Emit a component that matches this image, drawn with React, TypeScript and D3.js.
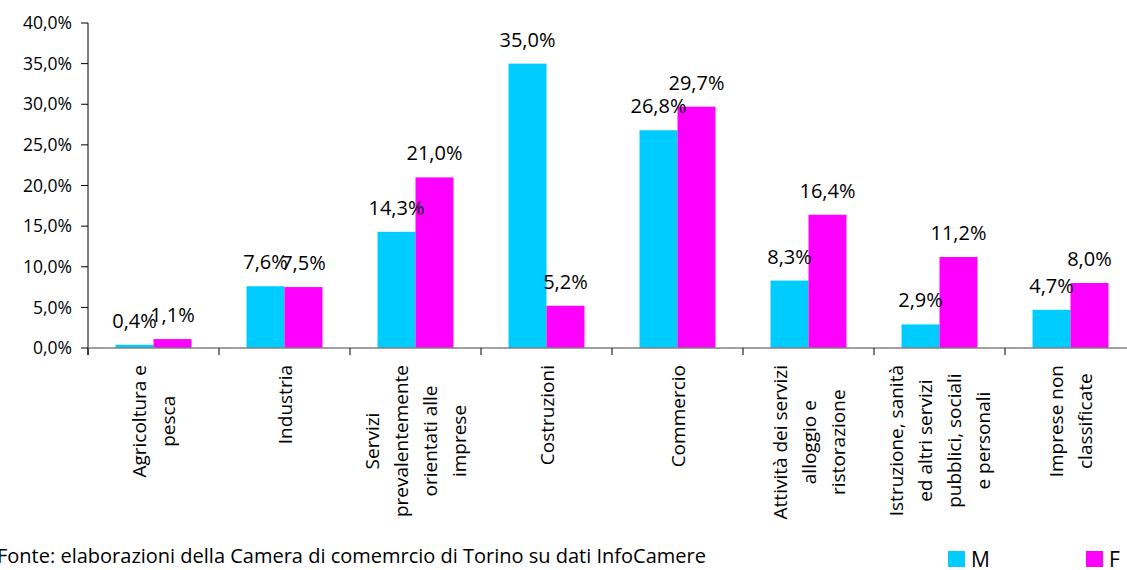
import React, { useEffect, useRef } from "react";
import * as d3 from "d3";

const categories = [
  ["Agricoltura e", "pesca"],
  ["Industria"],
  ["Servizi", "prevalentemente", "orientati alle", "imprese"],
  ["Costruzioni"],
  ["Commercio"],
  ["Attività dei servizi", "alloggio e", "ristorazione"],
  ["Istruzione, sanità", "ed altri servizi", "pubblici, sociali", "e personali"],
  ["Imprese non", "classificate"],
];
const seriesNames = ["M", "F"];
const valuesM = [0.4, 7.6, 14.3, 35.0, 26.8, 8.3, 2.9, 4.7];
const valuesF = [1.1, 7.5, 21.0, 5.2, 29.7, 16.4, 11.2, 8.0];
const yTicks = [0, 5, 10, 15, 20, 25, 30, 35, 40];
const colors = ["#00CCFF", "#FF00FF"];
const source = "Fonte: elaborazioni della Camera di comemrcio di Torino su dati InfoCamere";

const fmt = (v: number) => v.toFixed(1).replace(".", ",") + "%";
const FONT = "'Open Sans', 'Noto Sans', sans-serif";

export default function App() {
  const ref = useRef<SVGSVGElement>(null);
  useEffect(() => {
    const svg = d3.select(ref.current);
    svg.selectAll("*").remove();
    const x0 = 88;
    const step = 131;
    const keys = categories.map((_, i) => String(i));
    const x = d3.scaleBand().domain(keys).range([x0, x0 + step * categories.length]).paddingInner(0).paddingOuter(0);
    const x1 = d3.scaleBand().domain(seriesNames).range([0, x.bandwidth()]).paddingInner(0).paddingOuter(0.724);
    const y = d3.scaleLinear().domain([0, 40]).range([348, 23]);
    const data = [valuesM, valuesF];

    // y axis
    const gy = svg.append("g");
    gy.append("line").attr("x1", x0).attr("x2", x0).attr("y1", y(40)).attr("y2", y(0) + 7).attr("stroke", "#000");
    yTicks.forEach((t) => {
      gy.append("line").attr("x1", x0 - 7).attr("x2", x0).attr("y1", y(t)).attr("y2", y(t)).attr("stroke", "#000");
      gy.append("text").attr("x", 72).attr("y", y(t)).attr("dy", "0.35em").attr("text-anchor", "end")
        .attr("font-family", FONT).attr("font-size", 17.5).attr("fill", "#000").text(fmt(t));
    });

    // bars
    data.forEach((vals, si) => {
      const g = svg.append("g");
      vals.forEach((v, i) => {
        const bx = (x(keys[i]) as number) + (x1(seriesNames[si]) as number);
        g.append("rect").attr("x", bx).attr("y", y(v)).attr("width", x1.bandwidth()).attr("height", y(0) - y(v)).attr("fill", colors[si]);
      });
    });

    // x axis
    const gx = svg.append("g");
    gx.append("line").attr("x1", x0).attr("x2", 1127).attr("y1", y(0)).attr("y2", y(0)).attr("stroke", "#808080").attr("stroke-width", 1.5);
    keys.forEach((k) => {
      const tx = x(k) as number;
      gx.append("line").attr("x1", tx).attr("x2", tx).attr("y1", y(0)).attr("y2", y(0) + 7).attr("stroke", "#000");
    });

    // value labels
    data.forEach((vals, si) => {
      vals.forEach((v, i) => {
        const cx = (x(keys[i]) as number) + (x1(seriesNames[si]) as number) + x1.bandwidth() / 2;
        svg.append("text").attr("x", cx).attr("y", y(v) - 17).attr("text-anchor", "middle")
          .attr("font-family", FONT).attr("font-size", 20).attr("fill", "#000").text(fmt(v));
      });
    });

    // category labels
    const lh = 29;
    categories.forEach((lines, i) => {
      const cx = (x(keys[i]) as number) + x.bandwidth() / 2;
      const g = svg.append("g");
      const texts = lines.map((ln) =>
        g.append("text").attr("text-anchor", "middle").attr("font-family", FONT).attr("font-size", 19).attr("fill", "#000").text(ln)
      );
      const maxW = d3.max(texts, (t) => (t.node() as SVGTextElement).getComputedTextLength()) || 0;
      const n = lines.length;
      texts.forEach((t, j) => {
        const lx = cx + (j - (n - 1) / 2) * lh + 7;
        const ly = 365 + maxW / 2;
        t.attr("transform", `translate(${lx},${ly}) rotate(-90)`);
      });
    });

    // source
    svg.append("text").attr("x", -3).attr("y", 563).attr("font-family", FONT).attr("font-size", 20).attr("fill", "#000").text(source);

    // legend
    const legX = [948, 1086];
    seriesNames.forEach((s, i) => {
      svg.append("rect").attr("x", legX[i]).attr("y", 551).attr("width", 17).attr("height", 16).attr("fill", colors[i]);
      svg.append("text").attr("x", legX[i] + 23).attr("y", 567).attr("font-family", FONT).attr("font-size", 21).attr("fill", "#000").text(s);
    });
  }, []);
  return (
    <svg ref={ref} width={1127} height={570} style={{ position: "absolute", left: 0, top: 0, background: "#fff" }} />
  );
}
